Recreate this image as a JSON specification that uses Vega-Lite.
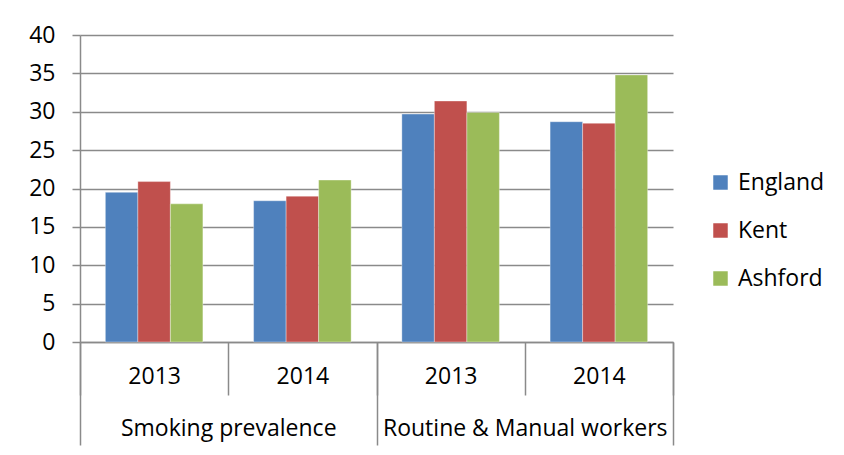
{
  "$schema": "https://vega.github.io/schema/vega-lite/v6.json",
  "autosize": "none",
  "width": 593,
  "height": 307,
  "padding": {"left": 80, "top": 35, "right": 171, "bottom": 113},
  "background": "white",
  "config": {
    "view": {"stroke": null},
    "font": "Open Sans",
    "axis": {"labelFont": "Open Sans", "labelColor": "#000000", "labelFontSize": 23, "labelLimit": 400, "labelOverlap": false, "domainColor": "#8a8a8a", "tickColor": "#8a8a8a", "domainWidth": 1.5, "tickWidth": 1.5},
    "legend": {"labelFont": "Open Sans", "labelFontSize": 23, "labelColor": "#000000"}
  },
  "data": {
    "values": [
      {"column": "Smoking prevalence 2013", "group": "Smoking prevalence", "year": "2013", "region": "England", "value": 19.5},
      {"column": "Smoking prevalence 2013", "group": "Smoking prevalence", "year": "2013", "region": "Kent", "value": 20.9},
      {"column": "Smoking prevalence 2013", "group": "Smoking prevalence", "year": "2013", "region": "Ashford", "value": 18.0},
      {"column": "Smoking prevalence 2014", "group": "Smoking prevalence", "year": "2014", "region": "England", "value": 18.4},
      {"column": "Smoking prevalence 2014", "group": "Smoking prevalence", "year": "2014", "region": "Kent", "value": 19.0},
      {"column": "Smoking prevalence 2014", "group": "Smoking prevalence", "year": "2014", "region": "Ashford", "value": 21.1},
      {"column": "Routine & Manual workers 2013", "group": "Routine & Manual workers", "year": "2013", "region": "England", "value": 29.7},
      {"column": "Routine & Manual workers 2013", "group": "Routine & Manual workers", "year": "2013", "region": "Kent", "value": 31.4},
      {"column": "Routine & Manual workers 2013", "group": "Routine & Manual workers", "year": "2013", "region": "Ashford", "value": 29.9},
      {"column": "Routine & Manual workers 2014", "group": "Routine & Manual workers", "year": "2014", "region": "England", "value": 28.7},
      {"column": "Routine & Manual workers 2014", "group": "Routine & Manual workers", "year": "2014", "region": "Kent", "value": 28.5},
      {"column": "Routine & Manual workers 2014", "group": "Routine & Manual workers", "year": "2014", "region": "Ashford", "value": 34.8}
    ]
  },
  "layer": [
    {
      "mark": {"type": "bar", "stroke": "#ffffff", "strokeOpacity": 0.35, "strokeWidth": 1},
      "encoding": {
        "x": {
          "field": "column", "type": "nominal", "sort": null,
          "scale": {"paddingInner": 0, "paddingOuter": 0},
          "axis": {"title": null, "orient": "bottom", "labelAngle": 0, "tickBand": "extent", "tickSize": 53, "labelPadding": -30, "labelExpr": "slice(datum.label, -4)", "grid": false}
        },
        "xOffset": {
          "field": "region", "type": "nominal",
          "scale": {"domain": ["England", "Kent", "Ashford"], "paddingInner": 0, "paddingOuter": 0.78}
        },
        "y": {
          "field": "value", "type": "quantitative",
          "scale": {"domain": [0, 40], "nice": false},
          "axis": {"title": null, "values": [0, 5, 10, 15, 20, 25, 30, 35, 40], "grid": true, "gridColor": "#8a8a8a", "gridWidth": 1.5, "tickSize": 8, "labelPadding": 17}
        },
        "color": {
          "field": "region", "type": "nominal",
          "scale": {"domain": ["England", "Kent", "Ashford"], "range": ["#4F81BD", "#C0504D", "#9BBB59"]},
          "legend": {"title": null, "orient": "none", "legendX": 629, "legendY": 136, "symbolType": "square", "symbolSize": 210, "symbolStrokeWidth": 0, "rowPadding": 24, "labelOffset": 6}
        }
      }
    },
    {
      "mark": {"type": "rule", "opacity": 0},
      "encoding": {
        "x": {
          "field": "group", "type": "nominal", "sort": null,
          "scale": {"paddingInner": 0, "paddingOuter": 0},
          "axis": {"title": null, "orient": "bottom", "labelAngle": 0, "tickBand": "extent", "tickSize": 103, "labelPadding": -28, "domain": false, "grid": false, "offset": 0}
        }
      }
    }
  ],
  "resolve": {"scale": {"x": "independent", "xOffset": "independent"}, "axis": {"x": "independent"}}
}
